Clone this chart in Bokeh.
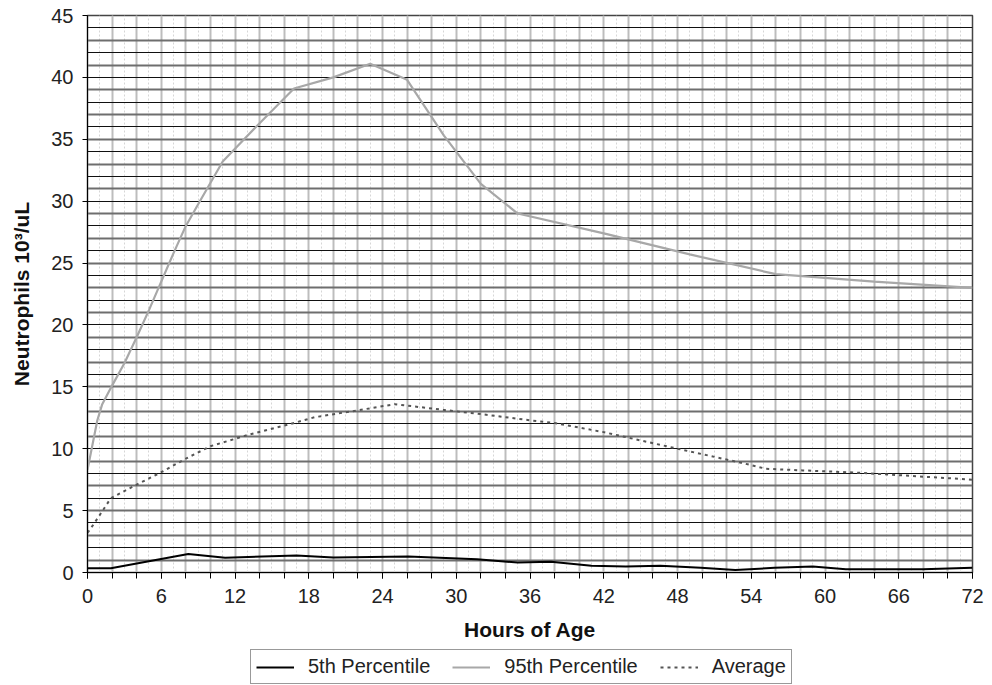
from bokeh.plotting import figure
from bokeh.layouts import column
from bokeh.models import (Range1d, SingleIntervalTicker, FixedTicker, Grid, Legend, LegendItem)
from bokeh.embed import file_html
from bokeh.resources import INLINE

# Data
hours_p5 = [0, 1.9, 8.2, 11.2, 17, 20, 26.1, 31.7, 35, 37.7, 41, 43.8, 46.6, 49.9, 52.7, 55.9, 59, 61.7, 68, 72]
p5 = [0.35, 0.35, 1.5, 1.2, 1.38, 1.22, 1.3, 1.08, 0.8, 0.86, 0.54, 0.49, 0.54, 0.38, 0.2, 0.38, 0.49, 0.26, 0.26, 0.38]

hours_p95 = [0, 0.8, 1.2, 2, 3, 4, 5, 6, 7, 8, 9.2, 11, 14, 16.8, 20, 23, 26, 29, 32, 35, 42, 49, 56, 64, 72]
p95 = [8.3, 12.3, 13.6, 15.1, 16.9, 19.0, 21.2, 23.5, 25.8, 28.0, 30.1, 33.2, 36.3, 39.1, 40.0, 41.1, 39.8, 35.3, 31.4, 29.0, 27.4, 25.7, 24.1, 23.5, 23.0]

hours_avg = [0, 0.5, 1.9, 4, 6, 8, 10, 13, 16.5, 18.5, 22, 25, 29.3, 32, 36, 38, 42, 48, 53.3, 55.2, 58.2, 62.8, 72]
avg = [3.2, 3.9, 6.0, 7.1, 8.1, 9.2, 10.2, 11.1, 12.0, 12.55, 13.1, 13.6, 13.1, 12.8, 12.3, 12.07, 11.34, 10.0, 8.84, 8.38, 8.25, 8.06, 7.5]

series_labels = ["5th Percentile", "95th Percentile", "Average"]

FONT = "Liberation Sans"
TICK_FS = "20px"
TITLE_FS = "21px"

p = figure(width=984, height=645, x_range=Range1d(0, 72), y_range=Range1d(0, 45),
           output_backend="svg", toolbar_location=None,
           min_border_left=87, min_border_right=12, min_border_top=15, min_border_bottom=73)

p.background_fill_color = "white"
p.border_fill_color = "white"
p.outline_line_color = "#444444"
p.outline_line_width = 1.5

# vertical grid: solid every 2 h, dashed light every 1 h
p.xgrid.ticker = SingleIntervalTicker(interval=2, num_minor_ticks=2)
p.xgrid.grid_line_color = "#bdbdbd"
p.xgrid.grid_line_width = 2
p.xgrid.minor_grid_line_color = "#d6d6d6"
p.xgrid.minor_grid_line_dash = "2 2"
p.xgrid.minor_grid_line_width = 1

# horizontal grid: alternating black / gray every unit
p.ygrid.ticker = FixedTicker(ticks=list(range(0, 46, 2)))
p.ygrid.grid_line_color = "#111111"
p.ygrid.grid_line_width = 1.2
odd_grid = Grid(dimension=1, ticker=FixedTicker(ticks=list(range(1, 46, 2))),
                grid_line_color="#6e6e6e", grid_line_width=2)
p.add_layout(odd_grid)

# axes
xax = p.xaxis[0]
xax.ticker = SingleIntervalTicker(interval=6, num_minor_ticks=3)
xax.major_tick_out = 6
xax.major_tick_in = 0
xax.minor_tick_out = 6
xax.minor_tick_in = 0
xax.axis_line_color = "black"
xax.major_tick_line_color = "black"
xax.minor_tick_line_color = "black"
xax.major_label_text_font = FONT
xax.major_label_text_font_size = TICK_FS
xax.major_label_text_color = "#222222"
xax.major_label_standoff = 10
xax.axis_label = "Hours of Age"
xax.axis_label_text_font = FONT
xax.axis_label_text_font_style = "bold"
xax.axis_label_text_font_size = TITLE_FS
xax.axis_label_text_color = "#111111"
xax.axis_label_standoff = 12

yax = p.yaxis[0]
yax.ticker = SingleIntervalTicker(interval=5, num_minor_ticks=0)
yax.major_tick_out = 5
yax.major_tick_in = 0
yax.minor_tick_out = 0
yax.axis_line_color = "black"
yax.major_tick_line_color = "black"
yax.major_label_text_font = FONT
yax.major_label_text_font_size = TICK_FS
yax.major_label_text_color = "#222222"
yax.major_label_standoff = 9
yax.axis_label = "Neutrophils 10\u00b3/uL"
yax.axis_label_text_font = FONT
yax.axis_label_text_font_style = "bold"
yax.axis_label_text_font_size = TITLE_FS
yax.axis_label_text_color = "#111111"
yax.axis_label_standoff = 15

styles = [dict(line_color="black", line_width=2),
          dict(line_color="#a8a8a8", line_width=2.2),
          dict(line_color="#555555", line_width=2, line_dash="3 4")]
series = [(hours_p5, p5), (hours_p95, p95), (hours_avg, avg)]

for (xs, ys), st in zip(series, styles):
    p.line(xs, ys, **st)

# legend strip below the chart (series drawn out of view, only the legend shows)
lf = figure(width=984, height=40, x_range=Range1d(0, 72), y_range=Range1d(100, 101),
            output_backend="svg", toolbar_location=None,
            x_axis_location=None, y_axis_location=None,
            min_border=0, outline_line_color=None)
lf.grid.visible = False
items = []
for (xs, ys), lab, st in zip(series, series_labels, styles):
    r = lf.line(xs, ys, **st)
    items.append(LegendItem(label=lab, renderers=[r]))

legend = Legend(items=items, orientation="horizontal", location=(163, 1))
legend.label_text_font = FONT
legend.label_text_font_size = TICK_FS
legend.label_text_color = "#222222"
legend.border_line_color = "#333333"
legend.border_line_width = 1
legend.glyph_width = 38
legend.spacing = 22
legend.padding = 5
legend.margin = 0
legend.label_standoff = 14
lf.add_layout(legend, "center")

layout = column(p, lf, spacing=0)
open("out.html", "w").write(file_html(layout, INLINE))
